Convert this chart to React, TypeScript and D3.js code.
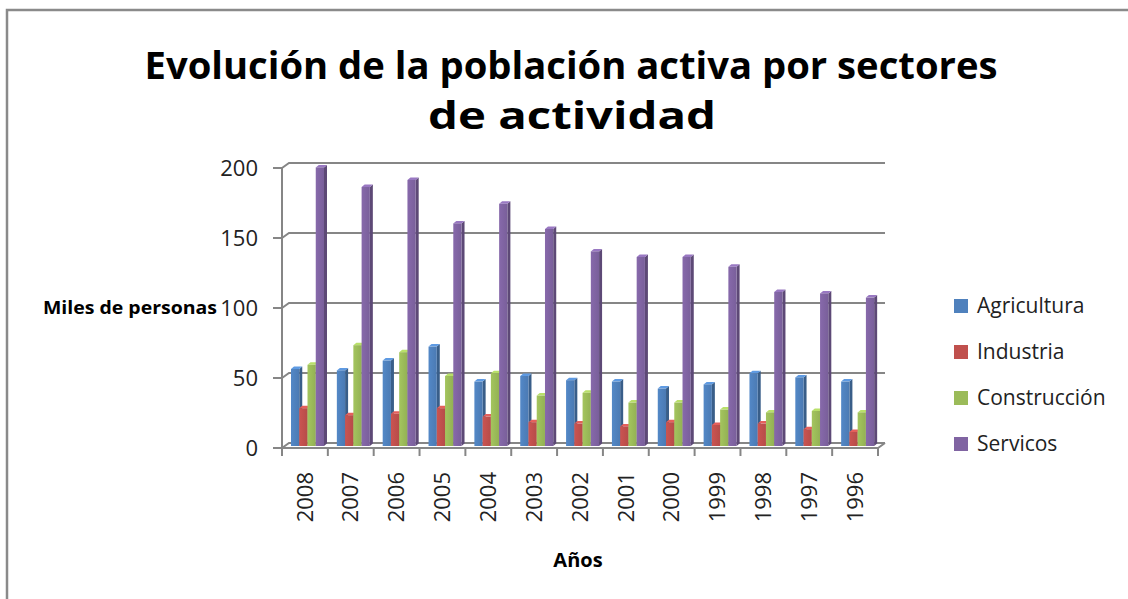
import { useEffect, useRef } from 'react';
import * as d3 from 'd3';

const years = ['2008', '2007', '2006', '2005', '2004', '2003', '2002', '2001', '2000', '1999', '1998', '1997', '1996'];
const series = ['Agricultura', 'Industria', 'Construcción', 'Servicos'];
const agricultura = [55, 54, 61, 71, 46, 50, 47, 46, 41, 44, 52, 49, 46];
const industria = [27, 22, 23, 27, 21, 17, 16, 14, 17, 15, 16, 12, 10];
const construccion = [58, 72, 67, 50, 52, 36, 38, 31, 31, 26, 24, 25, 24];
const servicios = [199, 185, 190, 159, 173, 155, 139, 135, 135, 128, 110, 109, 106];
const yTicks = [0, 50, 100, 150, 200];

const values = [agricultura, industria, construccion, servicios];
const colors = ['#4F81BD', '#C0504D', '#9BBB59', '#8064A2'];

export default function App() {
  const svgRef = useRef<SVGSVGElement>(null);

  useEffect(() => {
    if (!svgRef.current) return;
    const svg = d3.select(svgRef.current);
    svg.selectAll('*').remove();

    const font = '"Open Sans", sans-serif';
    const axisColor = '#868686';
    // offset of the back wall against the front plane
    const wdx = 7, wdy = -5;
    // bar depth
    const bdx = 3, bdy = -2.5;

    const x = d3.scaleBand().domain(years).range([282, 878]);
    const y = d3.scaleLinear().domain([0, 200]).range([448, 168]);
    const inner = d3.scaleBand().domain(series).range([9, 42]);

    const defs = svg.append('defs');
    colors.forEach((c, k) => {
      const grad = defs.append('linearGradient')
        .attr('id', `front-${k}`)
        .attr('x1', 0).attr('x2', 1).attr('y1', 0).attr('y2', 0);
      grad.append('stop').attr('offset', '0%').attr('stop-color', d3.color(c)!.brighter(0.15).toString());
      grad.append('stop').attr('offset', '100%').attr('stop-color', d3.color(c)!.darker(0.15).toString());
    });

    // frame
    svg.append('rect')
      .attr('x', 7).attr('y', 10)
      .attr('width', 1200).attr('height', 700)
      .attr('fill', '#fff')
      .attr('stroke', '#8a8a8a')
      .attr('stroke-width', 2.5);

    // title
    const title = svg.append('g')
      .style('font-family', font)
      .style('font-weight', 'bold')
      .style('font-size', '37px')
      .attr('fill', '#000')
      .attr('text-anchor', 'middle');
    title.append('text').attr('x', 571).attr('y', 79)
      .attr('textLength', 853).attr('lengthAdjust', 'spacingAndGlyphs')
      .text('Evolución de la población activa por sectores');
    title.append('text').attr('x', 572).attr('y', 129)
      .attr('textLength', 288).attr('lengthAdjust', 'spacingAndGlyphs')
      .text('de actividad');

    // back wall gridlines with diagonal connectors
    const grid = svg.append('g').attr('stroke', axisColor).attr('stroke-width', 2).attr('fill', 'none');
    yTicks.forEach(t => {
      const yy = y(t);
      grid.append('path')
        .attr('d', `M${x.range()[0]},${yy} L${x.range()[0] + wdx},${yy + wdy} L${x.range()[1] + wdx},${yy + wdy}`);
      grid.append('line')
        .attr('x1', x.range()[0] - 9).attr('x2', x.range()[0])
        .attr('y1', yy).attr('y2', yy);
    });
    // left axis
    grid.append('line')
      .attr('x1', x.range()[0]).attr('x2', x.range()[0])
      .attr('y1', y(200)).attr('y2', y(0));
    // floor front edge + right connector
    grid.append('path')
      .attr('d', `M${x.range()[0]},${y(0)} L${x.range()[1]},${y(0)} L${x.range()[1] + wdx},${y(0) + wdy}`);
    // bottom ticks
    const edges = years.map(d => x(d)!).concat([x.range()[1]]);
    edges.forEach(e => {
      grid.append('line').attr('x1', e).attr('x2', e).attr('y1', y(0)).attr('y2', y(0) + 8);
    });

    // bars (pseudo 3D)
    const bw = inner.bandwidth();
    const base = y(0) - 2;
    const bars = svg.append('g');
    years.forEach((yr, i) => {
      series.forEach((s, k) => {
        const v = values[k][i];
        const x0 = x(yr)! + inner(s)!;
        const top = y(v) - 2;
        const c = d3.color(colors[k])!;
        const g = bars.append('g');
        // side face
        g.append('path')
          .attr('d', `M${x0 + bw},${top} L${x0 + bw + bdx},${top + bdy} L${x0 + bw + bdx},${base + bdy} L${x0 + bw},${base} Z`)
          .attr('fill', c.darker(0.9).toString());
        // top face
        g.append('path')
          .attr('d', `M${x0},${top} L${x0 + bdx},${top + bdy} L${x0 + bw + bdx},${top + bdy} L${x0 + bw},${top} Z`)
          .attr('fill', c.brighter(0.5).toString());
        // front face
        g.append('rect')
          .attr('x', x0).attr('y', top)
          .attr('width', bw).attr('height', base - top)
          .attr('fill', `url(#front-${k})`);
      });
    });

    // y tick labels
    svg.append('g')
      .style('font-family', font)
      .style('font-size', '22px')
      .attr('fill', '#222')
      .attr('text-anchor', 'end')
      .selectAll('text')
      .data(yTicks)
      .enter()
      .append('text')
      .attr('x', 258)
      .attr('y', d => y(d))
      .attr('dy', '0.35em')
      .text(d => d);

    // x tick labels
    svg.append('g')
      .style('font-family', font)
      .style('font-size', '22px')
      .attr('fill', '#222')
      .selectAll('text')
      .data(years)
      .enter()
      .append('text')
      .attr('transform', d => `translate(${x(d)! + x.bandwidth() / 2},472) rotate(-90)`)
      .attr('text-anchor', 'end')
      .attr('dy', '0.35em')
      .text(d => d);

    // axis titles
    svg.append('text')
      .attr('x', 217).attr('y', 314)
      .attr('text-anchor', 'end')
      .attr('textLength', 174).attr('lengthAdjust', 'spacingAndGlyphs')
      .style('font-family', font).style('font-weight', 'bold').style('font-size', '18px')
      .text('Miles de personas');
    svg.append('text')
      .attr('x', 578).attr('y', 567)
      .attr('text-anchor', 'middle')
      .style('font-family', font).style('font-weight', 'bold').style('font-size', '20px')
      .text('Años');

    // legend
    const legend = svg.append('g').style('font-family', font).style('font-size', '21px');
    series.forEach((s, k) => {
      const ly = 306 + k * 46;
      legend.append('rect')
        .attr('x', 954).attr('y', ly - 7)
        .attr('width', 14).attr('height', 14)
        .attr('fill', colors[k]);
      legend.append('text')
        .attr('x', 977).attr('y', ly)
        .attr('dy', '0.35em')
        .attr('fill', '#222')
        .text(s);
    });
  }, []);

  return (
    <svg
      ref={svgRef}
      width={1128}
      height={599}
      style={{ position: 'absolute', left: 0, top: 0, display: 'block', background: '#fff' }}
    />
  );
}
